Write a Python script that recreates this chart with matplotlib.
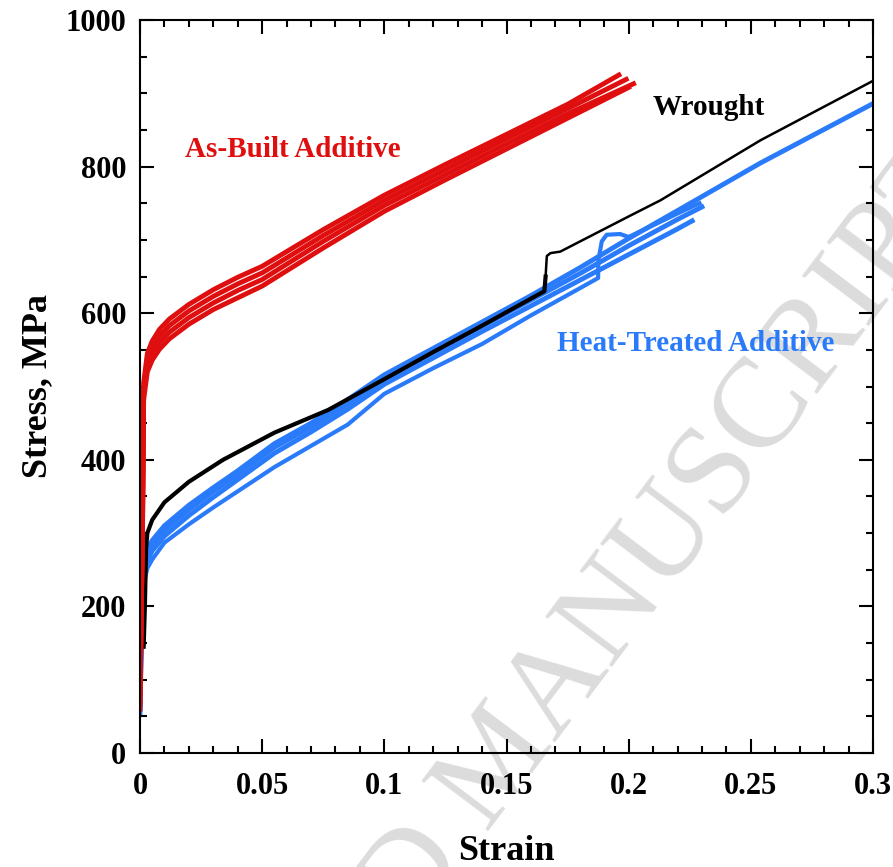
import matplotlib
matplotlib.use("Agg")
import matplotlib.pyplot as plt
from matplotlib.ticker import MultipleLocator

# ---- data (strain, stress in MPa) ----
red_strain = [0.0, 0.001, 0.0015, 0.003, 0.005, 0.008, 0.012, 0.02, 0.03, 0.04, 0.05,
              0.075, 0.1, 0.125, 0.15, 0.175, 0.2]
red_1 = [60, 320, 505, 545, 562, 578, 592, 612, 632, 649, 664, 714, 761, 803, 844, 885, 925]
red_2 = [70, 310, 498, 537, 553, 569, 583, 603, 623, 640, 655, 706, 754, 796, 838, 879, 919]
red_3 = [80, 300, 490, 528, 544, 560, 574, 594, 614, 631, 646, 698, 747, 789, 831, 872, 913]
red_4 = [90, 290, 482, 520, 536, 551, 565, 585, 605, 621, 637, 689, 739, 782, 824, 866, 908]
red_end = [0.196, 0.199, 0.202, 0.2]

wrought_strain = [0.0015, 0.002, 0.0025, 0.003, 0.005, 0.01, 0.02, 0.034, 0.055, 0.077,
                  0.1, 0.12, 0.14, 0.1655, 0.166, 0.1665, 0.168, 0.172, 0.2, 0.213,
                  0.254, 0.3]
wrought_stress = [145, 200, 280, 300, 318, 342, 370, 400, 437, 468,
                  510, 547, 583, 630, 650, 678, 682, 684, 732, 754,
                  836, 917]

blue_strain = [0.0, 0.0008, 0.0015, 0.003, 0.005, 0.01, 0.02, 0.03, 0.04, 0.055,
               0.07, 0.085, 0.1, 0.12, 0.14, 0.16, 0.18, 0.2, 0.22]
blue_1 = [55, 210, 255, 278, 290, 310, 338, 362, 385, 422, 450, 482, 516, 552, 588, 624, 662, 702, 740]
blue_2 = [60, 200, 245, 270, 284, 304, 332, 357, 380, 417, 445, 476, 510, 546, 582, 618, 654, 692, 728]
blue_3 = [65, 190, 238, 262, 276, 296, 324, 349, 373, 409, 438, 469, 503, 539, 575, 610, 645, 680, 715]
blue_1_tail_strain = [0.254, 0.3]
blue_1_tail = [805, 886]
blue_2_tail_strain = [0.23]
blue_2_tail = [745]
blue_3_tail_strain = [0.226]
blue_3_tail = [726]

blue_4_strain = [0.0, 0.0008, 0.0015, 0.003, 0.005, 0.01, 0.02, 0.03, 0.04, 0.055,
                 0.07, 0.085, 0.1, 0.12, 0.14, 0.16, 0.18, 0.1875, 0.1876, 0.189,
                 0.191, 0.1965, 0.2, 0.22, 0.229]
blue_4 = [70, 180, 230, 252, 264, 287, 312, 335, 357, 390,
          419, 448, 490, 525, 558, 597, 634, 648, 672, 698,
          707, 708, 704, 736, 750]

RED = "#e00f0f"
BLUE = "#2a7bfa"

plt.rcParams["font.family"] = ["Liberation Serif", "DejaVu Serif"]

fig = plt.figure(figsize=(8.93, 8.67), dpi=100)
ax = fig.add_axes([140 / 893, 1 - 753 / 867, 733 / 893, 733 / 867])
ax.patch.set_alpha(0)

# watermark behind everything
fig.text(0.562, 0.12, "ACCEPTED MANUSCRIPT", fontsize=92, color="#dcdcdc",
         rotation=53, rotation_mode="anchor", ha="center", va="center",
         zorder=-1)

# heat-treated additive
for ys, tx, ty in [(blue_1, blue_1_tail_strain, blue_1_tail),
                   (blue_2, blue_2_tail_strain, blue_2_tail),
                   (blue_3, blue_3_tail_strain, blue_3_tail)]:
    ax.plot(blue_strain + tx, ys + ty, color=BLUE, lw=3.5)
ax.plot(blue_4_strain, blue_4, color=BLUE, lw=3)

# wrought
jump = wrought_strain.index(0.1665)
ax.plot(wrought_strain[:jump], wrought_stress[:jump], color="black", lw=3)
ax.plot(wrought_strain[jump - 1:], wrought_stress[jump - 1:], color="black", lw=1.8)

# as-built additive
for ys, end in zip([red_1, red_2, red_3, red_4], red_end):
    xs = red_strain[:-1] + [end]
    ax.plot(xs, ys, color=RED, lw=3.5)

ax.set_xlim(0, 0.3)
ax.set_ylim(0, 1000)
ax.xaxis.set_major_locator(MultipleLocator(0.05))
ax.xaxis.set_minor_locator(MultipleLocator(0.01))
ax.yaxis.set_major_locator(MultipleLocator(200))
ax.yaxis.set_minor_locator(MultipleLocator(50))
ax.set_xticks([0, 0.05, 0.1, 0.15, 0.2, 0.25, 0.3])
ax.set_xticklabels(["0", "0.05", "0.1", "0.15", "0.2", "0.25", "0.3"])

ax.tick_params(which="both", direction="in", top=True, right=True, width=1.5)
ax.tick_params(which="major", length=10)
ax.tick_params(which="minor", length=5)
ax.tick_params(axis="x", pad=14)
ax.tick_params(axis="y", pad=10)
for lbl in ax.get_xticklabels() + ax.get_yticklabels():
    lbl.set_fontsize(22)
    lbl.set_fontweight("bold")
for s in ax.spines.values():
    s.set_linewidth(1.5)

ax.set_xlabel("Strain", fontsize=26, fontweight="bold", labelpad=24)
ax.set_ylabel("Stress, MPa", fontsize=26, fontweight="bold", labelpad=8)

ax.text(0.0184, 823, "As-Built Additive", color=RED, fontsize=21, fontweight="bold", va="center")
ax.text(0.2097, 880, "Wrought", color="black", fontsize=21, fontweight="bold", va="center")
ax.text(0.1706, 558, "Heat-Treated Additive", color=BLUE, fontsize=21, fontweight="bold", va="center")

fig.savefig("out.png", dpi=100)
